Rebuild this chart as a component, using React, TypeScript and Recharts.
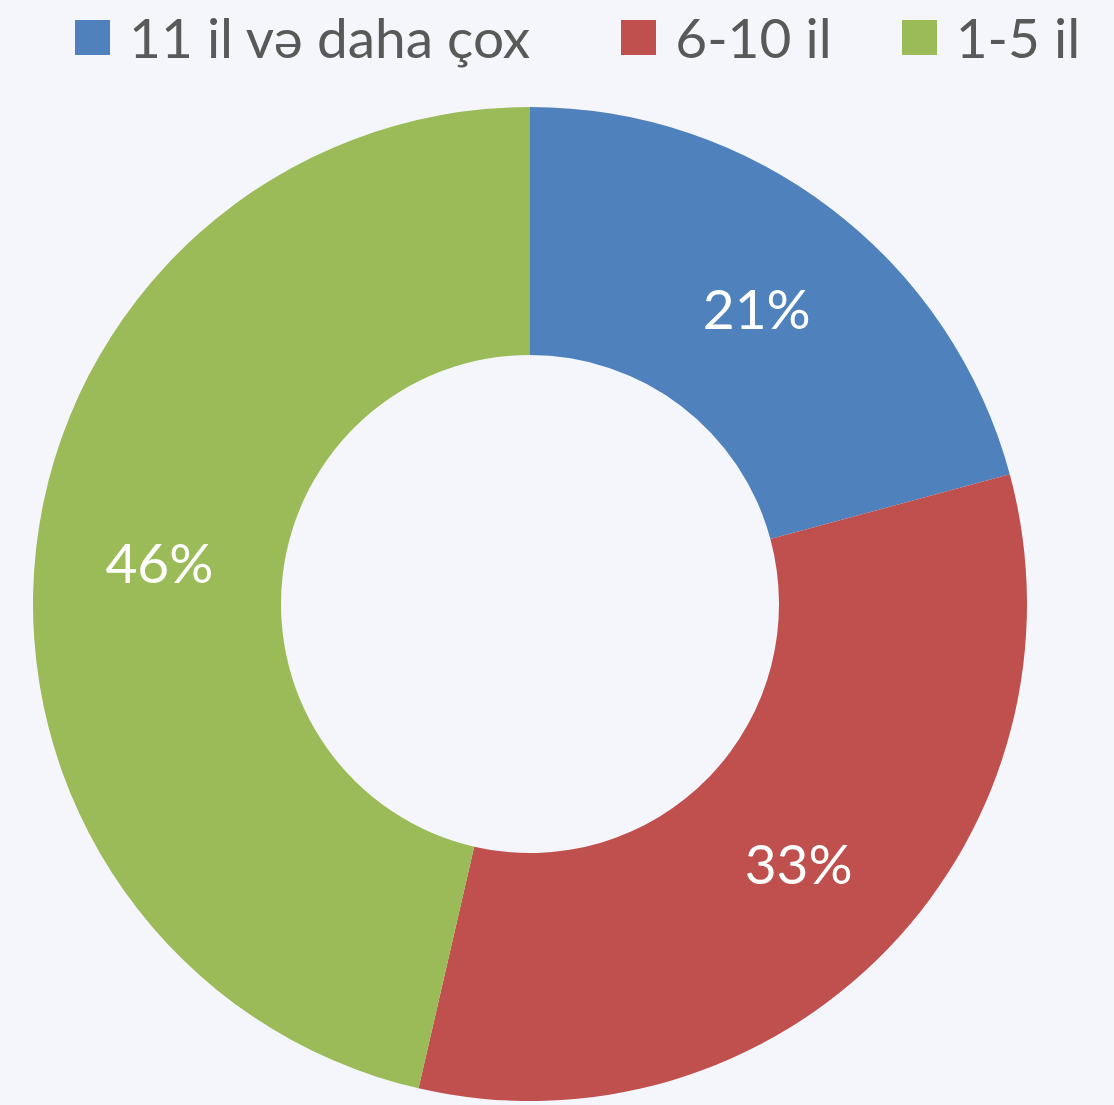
import React from "react";
import { PieChart, Pie, Cell } from "recharts";

const categories = ["11 il və daha çox", "6-10 il", "1-5 il"];
const values = [20.8, 32.8, 46.4];
const colors = ["#4F81BD", "#C0504D", "#9BBB59"];

const data = categories.map((name, i) => ({ name, value: values[i] }));

const FONT = "Lato, 'Open Sans', sans-serif";
const RAD = Math.PI / 180;

const renderLabel = (props: any) => {
  const { cx, cy, midAngle, innerRadius, outerRadius, percent } = props;
  const r = (innerRadius + outerRadius) / 2;
  const x = cx + r * Math.cos(-midAngle * RAD);
  const y = cy + r * Math.sin(-midAngle * RAD);
  return (
    <text
      x={x}
      y={y}
      fill="#FFFFFF"
      textAnchor="middle"
      dominantBaseline="central"
      fontFamily={FONT}
      fontSize={55}
    >
      {`${Math.round(percent * 100)}%`}
    </text>
  );
};

const legendGaps = [91, 70, 0];

function ChartLegend() {
  return (
    <div
      style={{
        position: "absolute",
        left: 75,
        top: 2,
        height: 70,
        display: "flex",
        alignItems: "center",
        whiteSpace: "nowrap",
      }}
    >
      {categories.map((name, i) => (
        <div key={name} style={{ display: "flex", alignItems: "center", marginRight: legendGaps[i] }}>
          <div style={{ width: 35, height: 35, background: colors[i], marginRight: 19 }} />
          <span style={{ fontFamily: FONT, fontSize: 55, color: "#595959", lineHeight: "56px" }}>
            {name}
          </span>
        </div>
      ))}
    </div>
  );
}

export default function App() {
  return (
    <div style={{ position: "absolute", left: 0, top: 0, width: 1114, height: 1105, background: "#F4F6FB" }}>
      <PieChart width={1114} height={1105} margin={{ top: 0, right: 0, bottom: 0, left: 0 }}>
        <Pie
          data={data}
          dataKey="value"
          nameKey="name"
          cx={530}
          cy={604}
          outerRadius={497}
          innerRadius={249}
          startAngle={90}
          endAngle={-270}
          stroke="none"
          label={renderLabel}
          labelLine={false}
          isAnimationActive={false}
        >
          {data.map((d, i) => (
            <Cell key={d.name} fill={colors[i]} />
          ))}
        </Pie>
      </PieChart>
      <ChartLegend />
    </div>
  );
}
